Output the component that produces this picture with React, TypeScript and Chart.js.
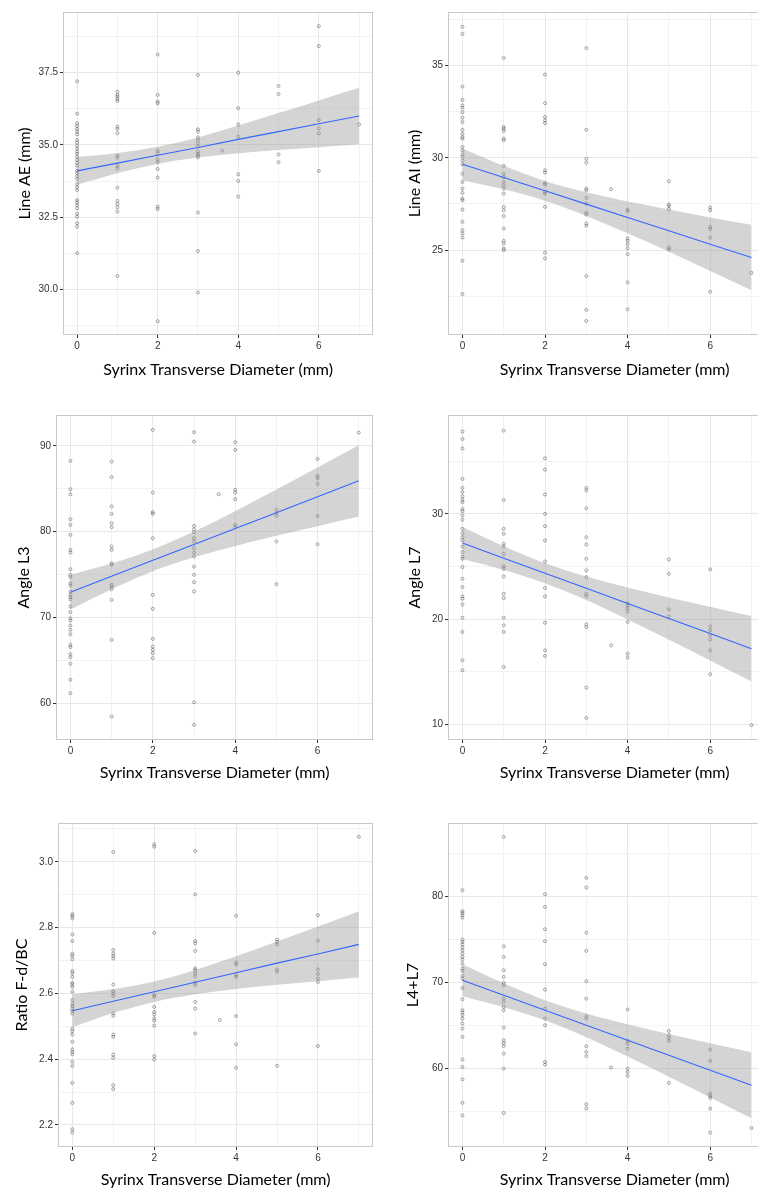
import React, { useEffect, useRef } from "react";
import { Chart, registerables } from "chart.js";

Chart.register(...registerables);

type Group = [number, number[]];

// ---------- shared x axis ----------
const FIT_X = [0, 1, 2, 3, 4, 5, 6, 7];
const X_TICKS = [0, 1, 2, 3, 4, 5, 6, 7];
const X_LABELS = [0, 2, 4, 6];
const X_TITLE = "Syrinx Transverse Diameter (mm)";

// ---------- Line AE (mm) ----------
const lineAE: Group[] = [
  [0, [37.2, 36.08, 35.75, 35.65, 35.55, 35.46, 35.37, 35.17, 35.08, 34.97, 34.87, 34.77, 34.69, 34.58, 34.48, 34.38, 34.28, 34.11, 34.02, 33.92, 33.82, 33.64, 33.54, 33.44, 33.09, 33.01, 32.92, 32.81, 32.62, 32.52, 32.29, 32.17, 31.25]],
  [1, [36.84, 36.73, 36.67, 36.59, 36.52, 35.63, 35.55, 35.4, 34.63, 34.56, 34.28, 34.19, 33.52, 33.06, 32.95, 32.84, 32.69, 30.46]],
  [2, [38.13, 36.73, 36.5, 36.44, 34.8, 34.71, 34.5, 34.4, 34.17, 33.87, 32.86, 32.78, 28.9]],
  [3, [37.42, 35.54, 35.46, 35.26, 35.17, 35.05, 34.94, 34.77, 34.69, 34.63, 34.57, 32.66, 31.33, 29.89]],
  [3.6, [34.8]],
  [4, [37.5, 36.27, 35.71, 35.28, 33.98, 33.75, 33.21]],
  [5, [37.04, 36.76, 34.67, 34.4]],
  [6, [39.11, 38.42, 35.86, 35.57, 35.4, 34.1]],
  [7, [35.71]],
];
const lineAEFit = [34.1, 34.37, 34.64, 34.91, 35.19, 35.46, 35.73, 36.0];
const lineAEUpper = [34.58, 34.72, 34.94, 35.26, 35.67, 36.1, 36.54, 36.98];
const lineAELower = [33.62, 34.02, 34.34, 34.56, 34.71, 34.82, 34.92, 35.02];
const lineAETicks = [28.75, 30, 31.25, 32.5, 33.75, 35, 36.25, 37.5, 38.75];
const lineAELabels = [30, 32.5, 35, 37.5];

// ---------- Line AI (mm) ----------
const lineAI: Group[] = [
  [0, [37.1, 36.71, 33.86, 33.14, 32.84, 32.71, 32.48, 32.17, 31.94, 31.52, 31.31, 31.13, 31.04, 30.59, 30.41, 30.19, 30.05, 29.86, 29.65, 29.14, 28.69, 28.33, 28.1, 27.79, 27.7, 27.2, 26.53, 26.08, 25.9, 25.68, 24.42, 22.62]],
  [1, [35.41, 31.67, 31.58, 31.45, 31.04, 30.95, 29.56, 29.14, 28.96, 28.69, 28.51, 28.33, 28.06, 27.34, 27.16, 26.84, 26.17, 25.5, 25.36, 25.09, 25.0]],
  [2, [34.51, 32.96, 32.21, 32.03, 31.88, 29.32, 29.2, 28.64, 28.55, 28.15, 28.06, 27.34, 24.86, 24.55]],
  [3, [35.94, 31.52, 29.95, 29.74, 28.33, 28.24, 27.83, 27.52, 27.02, 26.93, 26.44, 26.32, 23.59, 21.76, 21.16]],
  [3.6, [28.3]],
  [4, [27.2, 27.11, 25.63, 25.5, 25.32, 25.09, 24.78, 23.25, 21.79]],
  [5, [28.73, 27.47, 27.38, 27.22, 25.13, 25.04]],
  [6, [27.31, 27.16, 26.26, 26.14, 25.68, 22.75]],
  [7, [23.77]],
];
const lineAIFit = [29.65, 28.93, 28.21, 27.49, 26.77, 26.05, 25.32, 24.6];
const lineAIUpper = [30.51, 29.57, 28.75, 28.13, 27.63, 27.2, 26.77, 26.37];
const lineAILower = [28.79, 28.29, 27.67, 26.85, 25.91, 24.91, 23.87, 22.83];
const lineAITicks = [22.5, 25, 27.5, 30, 32.5, 35, 37.5];
const lineAILabels = [25, 30, 35];

// ---------- Angle L3 ----------
const angleL3: Group[] = [
  [0, [88.25, 84.95, 84.36, 81.45, 80.79, 79.62, 77.87, 77.56, 75.62, 74.96, 74.69, 73.99, 73.72, 73.02, 72.63, 72.36, 72.12, 71.27, 70.61, 69.91, 69.63, 69.05, 68.55, 68.04, 66.8, 66.53, 65.71, 65.36, 64.58, 62.72, 61.16]],
  [1, [88.17, 86.35, 82.93, 82.07, 80.98, 80.52, 78.26, 77.87, 76.32, 76.13, 73.79, 73.6, 73.29, 72.04, 67.38, 58.44]],
  [2, [91.87, 84.56, 82.27, 82.07, 79.23, 72.63, 71.0, 67.5, 66.6, 66.21, 65.83, 65.24]],
  [3, [91.6, 90.5, 80.67, 80.28, 79.93, 79.23, 78.85, 78.07, 77.56, 77.1, 75.93, 74.96, 74.1, 73.02, 60.11, 57.47]],
  [3.6, [84.36]],
  [4, [90.43, 89.53, 84.87, 84.56, 83.78, 80.79, 80.52]],
  [5, [82.54, 82.15, 81.84, 78.85, 73.87]],
  [6, [88.48, 86.5, 86.23, 85.57, 81.84, 78.53]],
  [7, [91.55]],
];
const angleL3Fit = [72.94, 74.79, 76.65, 78.5, 80.36, 82.21, 84.06, 85.92];
const angleL3Upper = [74.97, 76.29, 77.92, 80.0, 82.39, 84.9, 87.48, 90.07];
const angleL3Lower = [70.91, 73.29, 75.38, 77.0, 78.33, 79.52, 80.64, 81.77];
const angleL3Ticks = [60, 65, 70, 75, 80, 85, 90];
const angleL3Labels = [60, 70, 80, 90];

// ---------- Angle L7 ----------
const angleL7: Group[] = [
  [0, [37.82, 37.12, 36.23, 33.32, 32.47, 32.06, 31.65, 31.33, 31.11, 30.47, 30.25, 29.84, 29.43, 28.58, 28.16, 27.78, 27.47, 26.9, 26.36, 25.95, 25.73, 24.94, 23.83, 23.04, 22.15, 21.93, 21.39, 20.13, 18.77, 16.08, 15.13]],
  [1, [37.91, 31.33, 28.58, 28.1, 27.15, 26.9, 26.2, 25.0, 24.78, 24.05, 22.41, 22.0, 20.13, 19.4, 18.77, 15.44]],
  [2, [35.28, 34.21, 31.84, 30.0, 28.83, 27.47, 25.47, 22.94, 22.15, 19.65, 17.03, 16.49]],
  [3, [32.47, 32.22, 30.54, 27.78, 27.09, 25.73, 24.62, 23.99, 22.41, 22.18, 19.49, 19.24, 13.48, 10.6]],
  [3.6, [17.5]],
  [4, [21.52, 21.3, 21.04, 20.73, 19.72, 16.71, 16.33]],
  [5, [25.66, 24.3, 20.92, 20.25]],
  [6, [24.72, 19.3, 18.92, 18.45, 18.07, 17.03, 14.75]],
  [7, [9.91]],
];
const angleL7Fit = [27.22, 25.79, 24.35, 22.92, 21.48, 20.05, 18.62, 17.18];
const angleL7Upper = [28.74, 26.91, 25.3, 24.04, 23.0, 22.06, 21.18, 20.29];
const angleL7Lower = [25.7, 24.67, 23.4, 21.8, 19.96, 18.04, 16.06, 14.07];
const angleL7Ticks = [10, 15, 20, 25, 30, 35];
const angleL7Labels = [10, 20, 30];

// ---------- Ratio F-d/BC ----------
const ratioFdBC: Group[] = [
  [0, [2.841, 2.835, 2.828, 2.779, 2.759, 2.721, 2.714, 2.704, 2.668, 2.661, 2.65, 2.632, 2.627, 2.62, 2.605, 2.58, 2.569, 2.562, 2.554, 2.547, 2.539, 2.493, 2.485, 2.475, 2.453, 2.43, 2.422, 2.415, 2.392, 2.379, 2.328, 2.267, 2.187, 2.177]],
  [1, [3.03, 2.732, 2.721, 2.714, 2.706, 2.627, 2.607, 2.6, 2.592, 2.539, 2.532, 2.475, 2.468, 2.414, 2.404, 2.321, 2.309]],
  [2, [3.053, 3.046, 2.784, 2.595, 2.59, 2.559, 2.544, 2.536, 2.524, 2.517, 2.502, 2.409, 2.399]],
  [3, [3.033, 2.901, 2.759, 2.752, 2.729, 2.676, 2.671, 2.661, 2.652, 2.633, 2.625, 2.574, 2.554, 2.478]],
  [3.6, [2.519]],
  [4, [2.836, 2.694, 2.688, 2.656, 2.65, 2.531, 2.445, 2.374]],
  [5, [2.764, 2.757, 2.749, 2.673, 2.666, 2.38]],
  [6, [2.838, 2.76, 2.673, 2.659, 2.645, 2.635, 2.44]],
  [7, [3.076]],
];
const ratioFit = [2.547, 2.576, 2.605, 2.634, 2.663, 2.692, 2.72, 2.749];
const ratioUpper = [2.597, 2.613, 2.636, 2.671, 2.713, 2.758, 2.803, 2.85];
const ratioLower = [2.497, 2.54, 2.574, 2.597, 2.613, 2.626, 2.637, 2.648];
const ratioTicks = [2.2, 2.3, 2.4, 2.5, 2.6, 2.7, 2.8, 2.9, 3.0, 3.1];
const ratioLabels = [2.2, 2.4, 2.6, 2.8, 3.0];

// ---------- L4+L7 ----------
const l4l7: Group[] = [
  [0, [80.7, 78.26, 78.07, 77.8, 77.52, 74.97, 74.7, 74.39, 74.04, 73.73, 73.35, 72.96, 72.65, 72.19, 71.61, 71.33, 70.75, 70.45, 69.36, 68.05, 66.77, 66.5, 66.19, 65.8, 65.22, 64.64, 63.68, 61.05, 60.19, 58.76, 56.02, 54.58]],
  [1, [86.89, 74.2, 72.96, 71.41, 70.64, 69.94, 69.67, 68.12, 67.74, 67.16, 66.77, 64.76, 63.29, 62.98, 62.63, 61.74, 60.0, 54.85]],
  [2, [80.23, 78.76, 76.17, 74.78, 72.11, 69.17, 66.96, 65.8, 65.03, 60.77, 60.46]],
  [3, [82.13, 81.01, 75.78, 73.66, 70.14, 68.12, 66.07, 65.8, 62.59, 61.93, 61.43, 55.86, 55.36]],
  [3.6, [60.12]],
  [4, [66.85, 63.21, 62.9, 62.32, 60.0, 59.61, 59.15]],
  [5, [64.37, 63.87, 63.56, 63.21, 58.34]],
  [6, [62.21, 60.89, 57.1, 56.83, 56.6, 55.36, 52.57]],
  [7, [53.11]],
];
const l4l7Fit = [70.25, 68.51, 66.77, 65.02, 63.28, 61.54, 59.8, 58.06];
const l4l7Upper = [72.12, 69.89, 67.94, 66.4, 65.15, 64.02, 62.95, 61.89];
const l4l7Lower = [68.38, 67.13, 65.6, 63.64, 61.41, 59.06, 56.65, 54.23];
const l4l7Ticks = [55, 60, 65, 70, 75, 80, 85];
const l4l7Labels = [60, 70, 80];

// ---------- panel definitions ----------
interface PanelData {
  yTitle: string;
  groups: Group[];
  fit: number[];
  upper: number[];
  lower: number[];
  yTicks: number[];
  yLabels: number[];
  yMin: number;
  yMax: number;
  decimals: number;
}

const PANEL_DATA: PanelData[] = [
  { yTitle: "Line AE (mm)", groups: lineAE, fit: lineAEFit, upper: lineAEUpper, lower: lineAELower, yTicks: lineAETicks, yLabels: lineAELabels, yMin: 28.42, yMax: 39.6, decimals: 1 },
  { yTitle: "Line AI (mm)", groups: lineAI, fit: lineAIFit, upper: lineAIUpper, lower: lineAILower, yTicks: lineAITicks, yLabels: lineAILabels, yMin: 20.4, yMax: 37.9, decimals: 0 },
  { yTitle: "Angle L3", groups: angleL3, fit: angleL3Fit, upper: angleL3Upper, lower: angleL3Lower, yTicks: angleL3Ticks, yLabels: angleL3Labels, yMin: 55.7, yMax: 93.6, decimals: 0 },
  { yTitle: "Angle L7", groups: angleL7, fit: angleL7Fit, upper: angleL7Upper, lower: angleL7Lower, yTicks: angleL7Ticks, yLabels: angleL7Labels, yMin: 8.5, yMax: 39.4, decimals: 0 },
  { yTitle: "Ratio F-d/BC", groups: ratioFdBC, fit: ratioFit, upper: ratioUpper, lower: ratioLower, yTicks: ratioTicks, yLabels: ratioLabels, yMin: 2.133, yMax: 3.118, decimals: 1 },
  { yTitle: "L4+L7", groups: l4l7, fit: l4l7Fit, upper: l4l7Upper, lower: l4l7Lower, yTicks: l4l7Ticks, yLabels: l4l7Labels, yMin: 50.9, yMax: 88.5, decimals: 0 },
];

interface PanelLayout {
  left: number;
  top: number;
  width: number;
  height: number;
  padTop: number;
  padRight: number;
  yWidth: number;
  xHeight: number;
  yTitlePad: number;
  xTitlePad: number;
  xMin: number;
  xMax: number;
}

const PANEL_LAYOUT: PanelLayout[] = [
  { left: 0, top: 0, width: 378, height: 380, padTop: 12, padRight: 2, yWidth: 63, xHeight: 45, yTitlePad: 15.4, xTitlePad: 0.4, xMin: -0.35, xMax: 7.35 },
  { left: 380, top: 0, width: 406, height: 380, padTop: 12, padRight: 2, yWidth: 68, xHeight: 45, yTitlePad: 25.4, xTitlePad: 0.4, xMin: -0.35, xMax: 7.72 },
  { left: 0, top: 400, width: 378, height: 385, padTop: 15, padRight: 2, yWidth: 56, xHeight: 45, yTitlePad: 14.4, xTitlePad: 2.4, xMin: -0.35, xMax: 7.35 },
  { left: 380, top: 400, width: 406, height: 385, padTop: 15, padRight: 2, yWidth: 68, xHeight: 45, yTitlePad: 25.4, xTitlePad: 2.4, xMin: -0.35, xMax: 7.72 },
  { left: 0, top: 800, width: 378, height: 390, padTop: 23, padRight: 2, yWidth: 58, xHeight: 43, yTitlePad: 12.4, xTitlePad: 0.4, xMin: -0.35, xMax: 7.35 },
  { left: 380, top: 800, width: 406, height: 390, padTop: 23, padRight: 2, yWidth: 68, xHeight: 43, yTitlePad: 23.4, xTitlePad: 0.4, xMin: -0.35, xMax: 7.72 },
];

const TICK_FONT = { family: "'Liberation Sans', Arial, sans-serif", size: 10 };
const TITLE_FONT = { family: "Lato, 'Open Sans', sans-serif", size: 16 };
const MAJOR_GRID = "#e8e8e8";
const MINOR_GRID = "#f3f3f3";
const TICK_COLOR = "#333333";
const TEXT_COLOR = "#333333";

const has = (arr: number[], v: number) => arr.some((a) => Math.abs(a - v) < 1e-6);

const borderPlugin = {
  id: "panelBorder",
  afterDraw(chart: any) {
    const { ctx, chartArea } = chart;
    const l = Math.round(chartArea.left) + 0.5;
    const t = Math.round(chartArea.top) + 0.5;
    const r = Math.round(chartArea.right) - 0.5;
    const b = Math.round(chartArea.bottom) - 0.5;
    ctx.save();
    ctx.strokeStyle = "#c9c9c9";
    ctx.lineWidth = 1;
    ctx.strokeRect(l, t, r - l, b - t);
    ctx.restore();
  },
};

function Panel({ data, layout }: { data: PanelData; layout: PanelLayout }) {
  const ref = useRef<HTMLCanvasElement | null>(null);

  useEffect(() => {
    if (!ref.current) return;
    const points = data.groups.flatMap(([x, ys]) => ys.map((y) => ({ x, y })));
    const toXY = (arr: number[]) => FIT_X.map((x, i) => ({ x, y: arr[i] }));

    const chart = new Chart(ref.current, {
      type: "scatter",
      data: {
        datasets: [
          {
            type: "line",
            label: "fit",
            data: toXY(data.fit),
            borderColor: "#3366FF",
            borderWidth: 1.1,
            pointRadius: 0,
            fill: false,
            order: 0,
          } as any,
          {
            type: "line",
            label: "upper",
            data: toXY(data.upper),
            borderWidth: 0,
            borderColor: "rgba(0,0,0,0)",
            pointRadius: 0,
            cubicInterpolationMode: "monotone",
            fill: "+1",
            backgroundColor: "rgba(153,153,153,0.42)",
            order: 1,
          } as any,
          {
            type: "line",
            label: "lower",
            data: toXY(data.lower),
            borderWidth: 0,
            borderColor: "rgba(0,0,0,0)",
            pointRadius: 0,
            cubicInterpolationMode: "monotone",
            fill: false,
            order: 2,
          } as any,
          {
            type: "scatter",
            label: "points",
            data: points,
            pointStyle: "circle",
            pointRadius: 1.5,
            borderWidth: 0.8,
            borderColor: "rgba(70,70,70,0.6)",
            backgroundColor: "rgba(0,0,0,0)",
            order: 3,
          } as any,
        ],
      },
      options: {
        responsive: false,
        animation: false,
        events: [],
        layout: { padding: { top: layout.padTop, right: layout.padRight, left: 0, bottom: 0 } },
        plugins: { legend: { display: false }, tooltip: { enabled: false } },
        scales: {
          x: {
            type: "linear",
            min: layout.xMin,
            max: layout.xMax,
            afterBuildTicks: (scale: any) => {
              scale.ticks = X_TICKS.map((v) => ({ value: v }));
            },
            afterFit: (scale: any) => {
              scale.height = layout.xHeight;
            },
            ticks: {
              autoSkip: false,
              maxRotation: 0,
              padding: 2,
              font: TICK_FONT,
              color: TEXT_COLOR,
              callback: (v: any) => (has(X_LABELS, Number(v)) ? String(v) : ""),
            },
            grid: {
              drawTicks: true,
              tickLength: 3,
              lineWidth: 1,
              color: (c: any) => (has(X_LABELS, c.tick?.value) ? MAJOR_GRID : MINOR_GRID),
              tickColor: (c: any) => (has(X_LABELS, c.tick?.value) ? TICK_COLOR : "rgba(0,0,0,0)"),
            },
            border: { display: false },
            title: {
              display: true,
              text: X_TITLE,
              color: "#000",
              font: TITLE_FONT,
              padding: { top: 0, bottom: layout.xTitlePad },
            },
          },
          y: {
            type: "linear",
            min: data.yMin,
            max: data.yMax,
            afterBuildTicks: (scale: any) => {
              scale.ticks = data.yTicks.map((v) => ({ value: v }));
            },
            afterFit: (scale: any) => {
              scale.width = layout.yWidth;
            },
            ticks: {
              autoSkip: false,
              padding: 2,
              font: TICK_FONT,
              color: TEXT_COLOR,
              callback: (v: any) => (has(data.yLabels, Number(v)) ? Number(v).toFixed(data.decimals) : ""),
            },
            grid: {
              drawTicks: true,
              tickLength: 3,
              lineWidth: 1,
              color: (c: any) => (has(data.yLabels, c.tick?.value) ? MAJOR_GRID : MINOR_GRID),
              tickColor: (c: any) => (has(data.yLabels, c.tick?.value) ? TICK_COLOR : "rgba(0,0,0,0)"),
            },
            border: { display: false },
            title: {
              display: true,
              text: data.yTitle,
              color: "#000",
              font: TITLE_FONT,
              padding: { top: layout.yTitlePad, bottom: 0 },
            },
          },
        },
      } as any,
      plugins: [borderPlugin],
    });
    return () => chart.destroy();
  }, [data, layout]);

  return (
    <canvas
      ref={ref}
      width={layout.width}
      height={layout.height}
      style={{
        position: "absolute",
        left: layout.left,
        top: layout.top,
        width: layout.width,
        height: layout.height,
      }}
    />
  );
}

export default function App() {
  return (
    <div
      style={{
        position: "absolute",
        left: 0,
        top: 0,
        width: 758,
        height: 1190,
        overflow: "hidden",
        background: "#ffffff",
      }}
    >
      {PANEL_DATA.map((d, i) => (
        <Panel key={i} data={d} layout={PANEL_LAYOUT[i]} />
      ))}
    </div>
  );
}
